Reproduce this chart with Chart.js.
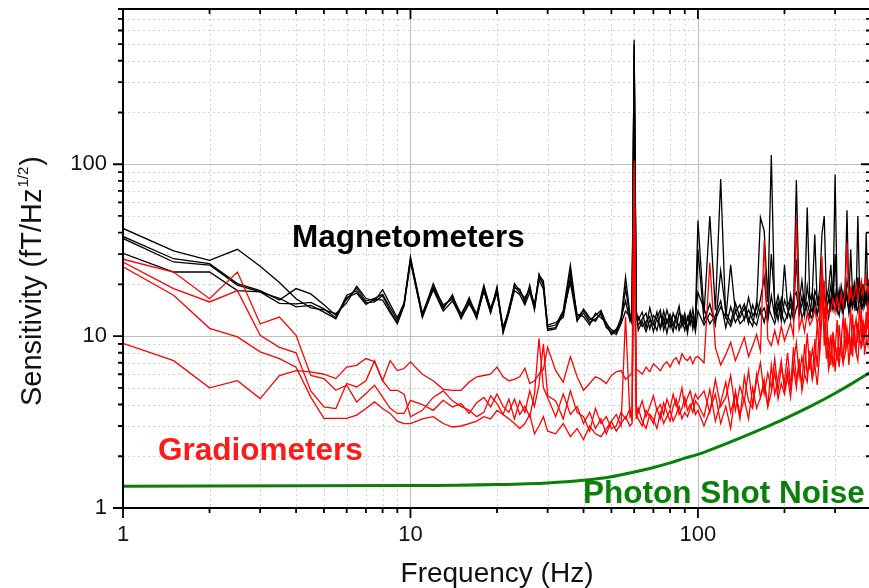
<!DOCTYPE html>
<html>
<head>
<meta charset="utf-8">
<script src="https://cdn.jsdelivr.net/npm/chart.js@4.4.1/dist/chart.umd.min.js"></script>
<style>
  html, body { margin: 0; padding: 0; overflow: hidden; background: #fff; }
  #wrap { width: 874px; height: 588px; }
</style>
</head>
<body>
<div id="wrap"><canvas id="myChart"></canvas></div>
<script>
// frequency grid (Hz), shared by all sensor traces
const freqHz = [
  1, 1.5, 2, 2.5, 3, 3.5, 4, 4.5, 5, 5.5, 6, 6.5, 7, 7.5, 8, 8.5, 9, 9.5, 10,
  11, 12, 13, 14, 15, 16, 17, 18, 19, 20, 21, 22, 23, 24, 25, 26, 27, 28, 29, 30,
  32, 34, 36, 38, 40, 42, 44, 46, 48, 50, 52, 54, 56, 58,
  59, 60, 61,
  62, 64, 66, 68, 70, 72, 74, 76, 78, 80, 82, 84, 86, 88, 90, 92, 94, 96, 98, 100,
  105, 110, 115, 120, 125, 130, 135, 140, 145, 150, 155, 160, 165, 170, 175, 180, 185, 190, 195, 200,
  205, 210, 215, 220, 225, 230, 235, 240, 245, 250, 255, 260, 265, 270, 275, 280, 285, 290, 295, 300,
  305, 310, 315, 320, 325, 330, 335, 340, 345, 350, 355, 360, 365, 370, 375, 380, 385, 390, 395, 400
];

// magnetometers (fT/Hz^1/2)
const mag1 = [
  42.3, 31.3, 27.6, 32.0, 25.5, 20.5, 16.5, 14.6, 14.2, 13.5, 15.6, 19.5, 16.6, 16.0, 18.6, 15.3, 12.8, 15.6, 28.9,
  13.2, 20.2, 14.8, 16.9, 13.5, 16.2, 13.5, 19.8, 14.1, 18.9, 11.3, 14.1, 20.2, 18.4, 16.2, 19.3, 14.8, 22.6, 21.0, 11.3,
  11.6, 14.1, 25.9, 12.9, 14.1, 12.4, 13.2, 14.1, 11.8, 10.9, 10.5, 12.4, 22.1, 13.5,
  13.0, 530, 14.0,
  12.4, 13.8, 11.2, 14.6, 12.0, 10.8, 13.4, 11.6, 14.2, 12.2, 10.6, 13.0, 15.0, 11.4, 12.8, 10.4, 13.6, 11.8, 12.6, 47,
  13.5, 50, 14.2, 82, 12.6, 26, 13.8, 15.2, 12.4, 16.8, 13.1, 14.5, 49, 41, 15.8, 113, 14.0, 17.2, 13.6, 26,
  15.1, 16.4, 14.2, 81, 15.6, 21, 14.8, 56, 16.2, 17.8, 39, 15.0, 18.6, 39, 50, 16.4, 19.2, 26, 15.8, 87,
  17.4, 15.2, 19.6, 16.8, 18.2, 54, 16.0, 32, 17.6, 20.4, 16.2, 50, 18.8, 15.6, 19.4, 17.2, 40, 16.6, 20.8, 18.0
];
const mag2 = [
  38.0, 28.2, 26.4, 20.2, 18.4, 16.2, 18.9, 17.6, 15.2, 13.2, 16.4, 19.0, 16.0, 16.6, 17.5, 14.6, 12.4, 15.4, 28.0,
  13.6, 19.4, 15.2, 16.4, 13.0, 16.8, 13.0, 19.2, 14.6, 18.2, 10.6, 14.6, 19.6, 17.8, 16.8, 18.6, 15.4, 21.8, 20.2, 11.0,
  11.2, 13.4, 24.0, 12.4, 13.6, 12.0, 12.6, 13.4, 11.4, 10.4, 11.0, 12.0, 19.0, 12.8,
  12.2, 500, 13.2,
  11.6, 12.6, 13.6, 11.0, 13.2, 12.4, 11.2, 14.0, 11.8, 13.4, 12.0, 11.0, 13.8, 12.6, 10.8, 13.0, 11.6, 14.4, 11.2, 32,
  12.2, 15.4, 11.6, 24, 13.8, 12.0, 15.6, 12.8, 14.6, 11.8, 15.2, 13.0, 16.4, 22, 12.6, 30, 15.8, 12.4, 16.6, 14.0,
  12.8, 17.4, 13.6, 28, 14.2, 17.0, 13.2, 19.6, 15.0, 13.8, 18.4, 16.6, 14.2, 24, 17.2, 14.8, 16.2, 19.8, 14.6, 30,
  15.4, 18.6, 14.4, 17.8, 15.2, 21, 18.2, 15.0, 19.4, 14.8, 18.0, 22, 15.6, 20.2, 16.4, 18.4, 15.8, 21.6, 16.8, 19.0
];
const mag3 = [
  37.0, 27.0, 25.9, 19.8, 18.1, 15.5, 15.4, 15.7, 14.4, 12.8, 17.3, 18.3, 15.6, 15.8, 17.2, 14.0, 12.0, 15.2, 27.6,
  12.8, 19.0, 14.4, 17.4, 12.6, 15.8, 12.6, 18.6, 13.6, 19.4, 10.4, 13.6, 19.0, 18.8, 15.6, 19.8, 14.2, 23.0, 19.6, 11.6,
  12.0, 12.8, 22.0, 13.4, 13.0, 11.6, 13.6, 12.8, 12.0, 10.2, 10.8, 12.8, 16.0, 12.2,
  13.6, 470, 12.6,
  13.0, 11.4, 12.2, 13.0, 10.6, 12.8, 14.2, 10.8, 12.6, 11.2, 13.6, 12.2, 11.4, 13.2, 11.8, 12.4, 14.0, 11.0, 13.2, 18,
  14.4, 11.8, 13.2, 16.0, 11.2, 14.8, 12.0, 13.6, 15.4, 12.6, 11.4, 15.8, 13.4, 14.6, 12.2, 17.2, 13.0, 15.6, 12.2, 16.2,
  14.4, 12.6, 16.8, 18.0, 13.2, 15.4, 16.6, 14.0, 12.8, 17.6, 14.4, 13.2, 16.8, 15.2, 18.6, 13.6, 17.0, 14.4, 18.8, 16.0,
  13.8, 17.2, 15.6, 13.4, 18.4, 16.2, 14.2, 19.2, 15.4, 17.6, 14.0, 18.8, 16.6, 14.4, 20.0, 15.2, 17.8, 14.8, 18.6, 16.2
];
const mag4 = [
  30.3, 23.6, 23.6, 18.4, 18.1, 16.6, 14.8, 15.1, 13.8, 12.6, 16.8, 17.8, 15.3, 16.4, 16.2, 13.7, 11.8, 15.0, 27.0,
  13.0, 18.6, 14.0, 16.0, 12.8, 15.4, 13.2, 18.2, 13.8, 17.8, 10.9, 13.8, 18.4, 17.4, 15.2, 18.0, 14.4, 21.2, 18.8, 10.8,
  11.0, 13.8, 20.5, 12.2, 14.4, 12.8, 12.2, 13.8, 11.2, 10.6, 10.2, 11.8, 14.0, 13.0,
  11.8, 440, 13.4,
  10.8, 12.2, 10.6, 12.4, 11.6, 13.8, 11.0, 12.8, 10.4, 12.8, 11.4, 13.2, 10.8, 12.0, 13.6, 11.2, 12.2, 13.0, 10.6, 14,
  11.6, 13.6, 12.4, 14.8, 12.8, 11.4, 14.0, 11.8, 12.6, 14.2, 12.4, 11.6, 14.4, 12.0, 15.0, 13.2, 11.8, 14.6, 13.8, 12.0,
  13.4, 15.2, 12.4, 14.6, 16.2, 12.8, 14.0, 15.6, 13.6, 12.6, 16.4, 13.4, 15.0, 17.2, 13.8, 15.8, 12.8, 16.6, 14.2, 17.8,
  14.6, 13.2, 16.8, 14.0, 15.4, 17.6, 13.6, 16.0, 14.6, 18.2, 15.2, 13.8, 17.4, 16.0, 14.4, 18.0, 15.4, 16.8, 14.8, 17.6
];

// gradiometers
const grad1 = [
  28.0, 23.6, 16.5, 23.6, 11.8, 12.9, 10.1, 5.9, 5.66, 4.84, 5.18, 4.14, 4.63, 5.18, 4.42, 3.8, 3.55, 3.55, 4.23,
  4.0, 3.7, 4.23, 3.87, 4.05, 3.55, 4.1, 4.4, 3.87, 4.6, 3.9, 3.6, 4.3, 3.5, 3.9, 3.4, 4.6, 9.7, 5.0, 4.4,
  3.4, 4.6, 3.5, 3.9, 3.1, 3.6, 2.9, 3.3, 2.7, 3.2, 3.5, 3.0, 12.9, 3.4,
  3.6, 95, 3.9,
  3.6, 4.2, 3.4, 3.9, 4.5, 3.7, 4.0, 3.5, 4.3, 3.8, 4.6, 3.9, 4.2, 5.0, 3.9, 4.4, 4.8, 4.1, 4.6, 4.3,
  4.8, 3.6, 5.6, 3.9, 4.4, 5.9, 3.7, 5.1, 4.2, 6.3, 4.0, 5.5, 7.0, 4.6, 6.1, 5.0, 7.4, 4.8, 6.6, 5.4,
  8.0, 5.2, 6.9, 9.2, 5.8, 7.6, 6.2, 10.4, 6.4, 8.4, 7.0, 11.8, 8.0, 18.5, 12.0, 7.4, 9.8, 6.8, 10.6, 8.2,
  12.4, 7.6, 9.4, 13.0, 8.4, 11.2, 9.0, 14.6, 8.6, 10.8, 12.6, 9.2, 15.2, 10.0, 12.2, 9.6, 13.8, 11.0, 14.8, 10.4
];
const grad2 = [
  27.0, 18.9, 15.8, 18.4, 10.1, 8.6, 8.0, 4.8, 3.87, 3.79, 5.3, 5.06, 5.5, 7.2, 5.5, 4.84, 4.84, 4.6, 3.39,
  3.7, 4.4, 4.8, 4.2, 3.9, 3.7, 3.4, 3.6, 4.5, 4.05, 3.5, 4.3, 3.3, 4.2, 3.6, 4.8, 3.9, 5.2, 9.0, 4.5,
  4.2, 3.3, 4.8, 3.6, 3.4, 2.8, 3.8, 3.1, 3.4, 2.9, 3.0, 3.6, 3.3, 3.8,
  3.2, 80, 3.5,
  3.3, 3.0, 3.7, 3.4, 3.1, 3.8, 3.3, 4.1, 3.6, 3.2, 3.9, 4.3, 3.5, 3.8, 4.4, 3.7, 4.0, 3.6, 4.2, 4.0,
  3.4, 4.9, 3.2, 4.1, 5.4, 3.6, 4.6, 3.3, 5.8, 4.2, 3.8, 6.0, 4.4, 5.2, 3.9, 6.8, 4.6, 5.6, 7.2, 4.8,
  6.4, 5.0, 8.6, 5.6, 6.8, 5.2, 9.0, 6.0, 7.6, 5.6, 9.6, 6.6, 12.5, 24, 8.8, 15.0, 7.0, 10.2, 6.6, 8.8,
  7.2, 11.6, 8.0, 7.0, 12.8, 8.6, 10.0, 7.8, 13.4, 9.0, 8.2, 12.0, 9.6, 14.2, 8.8, 11.4, 10.2, 16.0, 9.4, 12.6
];
const grad3 = [
  25.3, 17.3, 11.1, 9.9, 8.1, 7.4, 6.6, 4.42, 3.32, 3.32, 3.32, 3.47, 3.79, 4.14, 3.79, 3.55, 3.2, 3.1, 3.1,
  3.3, 3.4, 3.1, 2.96, 3.0, 3.1, 3.2, 3.4, 3.3, 3.7, 3.5, 3.3, 3.1, 2.9, 3.1, 3.5, 2.7, 3.0, 3.4, 2.8,
  2.7, 3.1, 2.6, 2.9, 2.5, 3.0, 2.7, 2.6, 2.9, 3.2, 2.8, 3.1, 3.4, 3.0,
  3.1, 60, 3.3,
  3.8, 3.2, 2.9, 3.5, 3.3, 2.9, 3.6, 3.1, 3.4, 3.7, 3.2, 3.5, 3.9, 3.3, 3.6, 3.4, 3.8, 4.2, 3.5, 3.7,
  3.0, 3.7, 4.6, 3.1, 3.9, 2.9, 4.8, 3.5, 4.3, 3.3, 5.0, 3.8, 4.4, 5.6, 3.9, 4.7, 6.2, 4.3, 5.3, 4.6,
  5.8, 4.4, 6.6, 5.0, 7.4, 4.8, 6.0, 5.4, 8.2, 5.6, 6.8, 5.2, 7.8, 13.0, 21, 9.4, 6.4, 7.6, 10.4, 6.2,
  8.6, 6.6, 9.8, 7.0, 7.8, 10.8, 6.8, 9.2, 7.6, 11.6, 8.0, 7.2, 10.0, 8.4, 12.4, 7.8, 9.6, 8.8, 13.2, 9.0
];
const grad4 = [
  9.07, 7.2, 5.0, 5.5, 4.33, 5.9, 6.3, 6.2, 6.0, 5.66, 6.6, 6.76, 7.4, 7.1, 5.5, 7.2, 6.3, 6.48, 7.08,
  6.0, 5.5, 4.9, 4.84, 4.84, 5.4, 5.8, 5.9, 6.0, 6.6, 5.8, 5.5, 5.6, 5.8, 6.5, 5.3, 5.5, 6.0, 6.4, 8.6,
  6.3, 5.4, 7.6, 5.8, 4.84, 5.3, 5.8, 5.6, 5.3, 5.9, 6.2, 6.3, 5.6, 5.9,
  6.1, 105, 6.4,
  6.3, 6.0, 6.6, 6.2, 6.9, 6.6, 6.3, 6.8, 7.1, 6.6, 7.2, 7.5, 6.9, 7.9, 7.4, 7.2, 7.6, 6.9, 7.5, 7.6,
  7.0, 26.7, 8.6, 6.8, 7.8, 9.2, 7.2, 8.4, 9.8, 7.6, 8.8, 10.2, 8.2, 36, 9.6, 8.8, 10.8, 9.0, 11.4, 9.4,
  10.6, 12.0, 10.0, 49, 11.0, 12.8, 10.6, 13.6, 11.6, 12.4, 14.4, 11.8, 13.2, 29, 12.6, 15.6, 13.4, 14.2, 16.4, 13.8,
  16.8, 14.4, 17.6, 15.0, 18.4, 35, 15.8, 19.0, 16.2, 17.4, 20.2, 16.6, 18.6, 21.0, 17.2, 19.8, 22.4, 17.8, 20.6, 19.0
];

// photon shot noise
const shotFreq = [1, 10, 20, 30, 40, 50, 60, 70, 80, 90, 100, 120, 140, 160, 180, 200, 250, 300, 350, 400];
const shotVals = [1.34, 1.35, 1.37, 1.40, 1.45, 1.52, 1.62, 1.72, 1.83, 1.95, 2.05, 2.3, 2.55, 2.8, 3.05, 3.3, 3.95, 4.65, 5.4, 6.2];

const xTickLabels = [1, 10, 100];
const yTickLabels = [1, 10, 100];

const FONT = "'Liberation Sans', Arial, Helvetica, sans-serif";
const X_MIN = 1, X_MAX = 400, Y_MIN = 1, Y_MAX = 800;

const pts = (xs, ys) => xs.map((f, i) => ({ x: f, y: ys[i] }));

function trace(vals, color, order) {
  return {
    data: pts(freqHz, vals),
    borderColor: color,
    borderWidth: 1.3,
    pointRadius: 0,
    tension: 0,
    fill: false,
    order: order
  };
}

function steps(min, max) {
  const out = [];
  for (let d = 1; d <= max; d *= 10) {
    for (let m = 1; m <= 9; m++) {
      const v = m * d;
      if (v >= min && v <= max) out.push(v);
    }
  }
  return out;
}

// no extra room for half tick labels, the frame sits where the layout says
function noPad(s) {
  s.paddingTop = 0; s.paddingBottom = 0;
  s.paddingLeft = 0; s.paddingRight = 0;
}

const framePlugin = {
  id: 'frame',
  beforeDatasetsDraw(chart) {
    const { ctx, chartArea: a, scales: { x, y } } = chart;
    ctx.save();
    ctx.lineWidth = 1;
    steps(X_MIN, X_MAX).forEach(v => {
      const px = Math.round(x.getPixelForValue(v)) + 0.5;
      const major = xTickLabels.includes(v);
      ctx.strokeStyle = major ? '#bdbdbd' : '#d2d2d2';
      ctx.setLineDash(major ? [] : [2, 3]);
      ctx.beginPath(); ctx.moveTo(px, a.top); ctx.lineTo(px, a.bottom); ctx.stroke();
    });
    steps(Y_MIN, Y_MAX).forEach(v => {
      const py = Math.round(y.getPixelForValue(v)) + 0.5;
      const major = yTickLabels.includes(v);
      ctx.strokeStyle = major ? '#bdbdbd' : '#d2d2d2';
      ctx.setLineDash(major ? [] : [2, 3]);
      ctx.beginPath(); ctx.moveTo(a.left, py); ctx.lineTo(a.right, py); ctx.stroke();
    });
    ctx.restore();
  },
  afterDatasetsDraw(chart) {
    const { ctx, chartArea: a, scales: { x, y } } = chart;
    ctx.save();
    ctx.strokeStyle = '#000';
    ctx.lineWidth = 2;
    ctx.strokeRect(a.left, a.top, a.right - a.left, a.bottom - a.top);

    ctx.lineWidth = 1.8;
    steps(X_MIN, X_MAX).forEach(v => {
      const px = x.getPixelForValue(v);
      const len = xTickLabels.includes(v) ? 10 : 5;
      ctx.beginPath();
      ctx.moveTo(px, a.bottom); ctx.lineTo(px, a.bottom + len);
      ctx.moveTo(px, a.top); ctx.lineTo(px, a.top + len);
      ctx.stroke();
    });
    steps(Y_MIN, Y_MAX).forEach(v => {
      const py = y.getPixelForValue(v);
      const len = yTickLabels.includes(v) ? 10 : 5;
      ctx.beginPath();
      ctx.moveTo(a.left - len, py); ctx.lineTo(a.left, py);
      ctx.moveTo(a.right - len, py); ctx.lineTo(a.right, py);
      ctx.stroke();
    });

    // series labels
    ctx.textBaseline = 'alphabetic';
    ctx.textAlign = 'left';
    ctx.font = 'bold 31.5px ' + FONT;
    ctx.fillStyle = '#000';
    ctx.fillText('Magnetometers', 292, 247);
    ctx.fillStyle = '#ff1a1a';
    ctx.fillText('Gradiometers', 158, 460);
    ctx.fillStyle = '#0a800a';
    ctx.fillText('Photon Shot Noise', 583, 503);

    // axis titles
    ctx.fillStyle = '#111';
    ctx.font = '28px ' + FONT;
    ctx.textAlign = 'center';
    ctx.fillText('Frequency (Hz)', (a.left + a.right) / 2, 582);

    ctx.textAlign = 'left';
    ctx.translate(41, 281);
    ctx.rotate(-Math.PI / 2);
    const main = 'Sensitivity (fT/Hz';
    ctx.font = '29px ' + FONT;
    const wMain = ctx.measureText(main).width;
    const wClose = ctx.measureText(')').width;
    ctx.font = '15px ' + FONT;
    const wSup = ctx.measureText('1/2').width;
    let cx = -(wMain + wSup + wClose + 2) / 2;
    ctx.font = '29px ' + FONT;
    ctx.fillText(main, cx, 0);
    cx += wMain + 1;
    ctx.font = '15px ' + FONT;
    ctx.fillText('1/2', cx, -13);
    cx += wSup + 1;
    ctx.font = '29px ' + FONT;
    ctx.fillText(')', cx, 0);
    ctx.restore();
  }
};

const ctx = document.querySelector('#myChart').getContext('2d');

const myChart = new Chart(ctx, {
  type: 'line',
  data: {
    datasets: [
      {
        data: pts(shotFreq, shotVals),
        borderColor: '#0a800a',
        borderWidth: 3,
        pointRadius: 0,
        cubicInterpolationMode: 'monotone',
        fill: false,
        order: 0
      },
      trace(grad1, '#ff0000', 1),
      trace(grad2, '#ff0000', 1),
      trace(grad3, '#ff0000', 1),
      trace(grad4, '#ff0000', 1),
      trace(mag1, '#000000', 2),
      trace(mag2, '#000000', 2),
      trace(mag3, '#000000', 2),
      trace(mag4, '#000000', 2)
    ]
  },
  options: {
    responsive: true,
    maintainAspectRatio: false,
    animation: false,
    layout: { padding: { top: 9, right: 3, left: 0, bottom: 0 } },
    plugins: {
      legend: { display: false },
      tooltip: { enabled: false }
    },
    scales: {
      x: {
        type: 'logarithmic',
        min: X_MIN,
        max: X_MAX,
        grid: { display: false, drawTicks: false },
        border: { display: false },
        afterBuildTicks: s => { s.ticks = xTickLabels.map(v => ({ value: v })); },
        afterFit: s => { s.height = 80; noPad(s); },
        ticks: {
          callback: v => String(v),
          autoSkip: false,
          maxRotation: 0,
          padding: 14,
          color: '#111',
          font: { family: FONT, size: 22 }
        }
      },
      y: {
        type: 'logarithmic',
        min: Y_MIN,
        max: Y_MAX,
        grid: { display: false, drawTicks: false },
        border: { display: false },
        afterBuildTicks: s => { s.ticks = yTickLabels.map(v => ({ value: v })); },
        afterFit: s => { s.width = 123; noPad(s); },
        ticks: {
          callback: v => String(v),
          autoSkip: false,
          padding: 16,
          color: '#111',
          font: { family: FONT, size: 22 }
        }
      }
    }
  },
  plugins: [framePlugin]
});
</script>
</body>
</html>
